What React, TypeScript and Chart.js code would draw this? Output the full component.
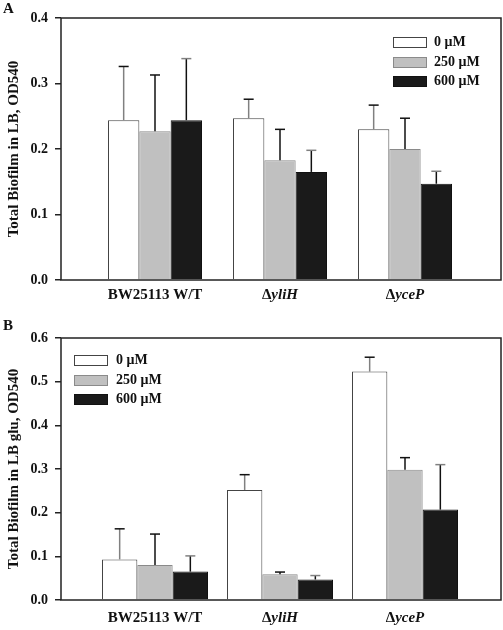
import React, { useEffect, useRef } from "react";
import { Chart, registerables } from "chart.js";

Chart.register(...registerables);

// ---------- data ----------
const categories = ["BW25113 W/T", "\u0394yliH", "\u0394yceP"];
const seriesLabels = ["0 \u03bcM", "250 \u03bcM", "600 \u03bcM"];

// Panel A (LB)
const a0 = [0.244, 0.247, 0.23];
const a250 = [0.227, 0.183, 0.2];
const a600 = [0.244, 0.165, 0.147];
const a0Sd = [0.082, 0.029, 0.037];
const a250Sd = [0.086, 0.047, 0.047];
const a600Sd = [0.094, 0.033, 0.019];

// Panel B (LB glu)
const b0 = [0.093, 0.252, 0.523];
const b250 = [0.08, 0.059, 0.298];
const b600 = [0.065, 0.047, 0.207];
const b0Sd = [0.07, 0.035, 0.033];
const b250Sd = [0.071, 0.005, 0.028];
const b600Sd = [0.036, 0.009, 0.103];

const yTicksA = [0, 0.1, 0.2, 0.3, 0.4];
const yTicksB = [0, 0.1, 0.2, 0.3, 0.4, 0.5, 0.6];

// ---------- styles ----------
const SERIF = "'Liberation Serif', 'Times New Roman', serif";
const fills = ["#ffffff", "#c0c0c0", "#1a1a1a"];
const borders = ["#444444", "#8a8a8a", "#111111"];
const stemColors = ["#808080", "#111111", "#111111"];
const capColors = ["#111111", "#111111", "#808080"];

type PanelCfg = {
  means: number[][];
  sds: number[][];
  yMax: number;
  yTicks: number[];
  yTitle: string;
  height: number;
  padTop: number;
  plotBottom: number;
  catPct: number;
  labelOffset: number;
};

const frameAndLabels = {
  id: "frameAndLabels",
  afterDatasetsDraw(chart: any, _args: any, opts: any) {
    const ctx = chart.ctx;
    const { left, top, right, bottom } = chart.chartArea;
    const yScale = chart.scales.y;
    const xScale = chart.scales.x;
    const sds: number[][] = opts.sds;
    // error bars
    chart.data.datasets.forEach((ds: any, di: number) => {
      const meta = chart.getDatasetMeta(di);
      meta.data.forEach((el: any, i: number) => {
        const v = ds.data[i].y + sds[di][i];
        const yTop = yScale.getPixelForValue(v);
        ctx.save();
        ctx.lineWidth = 1.5;
        ctx.strokeStyle = stemColors[di];
        ctx.beginPath();
        ctx.moveTo(el.x, el.y);
        ctx.lineTo(el.x, yTop);
        ctx.stroke();
        ctx.strokeStyle = capColors[di];
        ctx.beginPath();
        ctx.moveTo(el.x - 5, yTop);
        ctx.lineTo(el.x + 5, yTop);
        ctx.stroke();
        ctx.restore();
      });
    });
    // frame
    ctx.save();
    ctx.lineWidth = 1.5;
    ctx.strokeStyle = "#222222";
    ctx.strokeRect(left, top, right - left, bottom - top);
    ctx.restore();
    // x labels with mixed fonts
    const yText = bottom + opts.labelOffset;
    categories.forEach((cat, i) => {
      const parts: [string, boolean][] = cat.startsWith("\u0394")
        ? [["\u0394", false], [cat.slice(1), true]]
        : [[cat, false]];
      ctx.save();
      ctx.fillStyle = "#111";
      ctx.textBaseline = "middle";
      ctx.textAlign = "left";
      const widths = parts.map(([t, it]) => {
        ctx.font = `${it ? "italic " : ""}bold 15px ${SERIF}`;
        return ctx.measureText(t).width;
      });
      const total = widths.reduce((s, w) => s + w, 0);
      let x = xScale.getPixelForValue(i + 1) - total / 2;
      parts.forEach(([t, it], k) => {
        ctx.font = `${it ? "italic " : ""}bold 15px ${SERIF}`;
        ctx.fillText(t, x, yText);
        x += widths[k];
      });
      ctx.restore();
    });
  },
};

function Panel({ cfg }: { cfg: PanelCfg }) {
  const ref = useRef<HTMLCanvasElement>(null);
  useEffect(() => {
    if (!ref.current) return;
    const chart = new Chart(ref.current, {
      type: "bar",
      data: {
        datasets: seriesLabels.map((lab, di) => ({
          label: lab,
          data: cfg.means[di].map((v, i) => ({ x: i + 1, y: v })),
          backgroundColor: fills[di],
          borderColor: borders[di],
          borderWidth: 1,
          borderSkipped: "bottom",
          categoryPercentage: cfg.catPct,
          barPercentage: 1,
        })),
      },
      options: {
        animation: false,
        responsive: false,
        events: [],
        layout: { padding: { top: cfg.padTop, right: 2, left: 0, bottom: 0 } },
        plugins: {
          legend: { display: false },
          tooltip: { enabled: false },
          frameAndLabels: { sds: cfg.sds, labelOffset: cfg.labelOffset },
        } as any,
        scales: {
          x: {
            type: "linear",
            min: 0.248,
            max: 3.768,
            offset: false,
            bounds: "data",
            grid: { display: false, offset: false },
            border: { display: false },
            ticks: { display: false },
            afterBuildTicks: (s: any) => {
              s.ticks = categories.map((_, i) => ({ value: i + 1 }));
            },
            afterFit: (s: any) => {
              s.height = cfg.height - cfg.plotBottom;
            },
          },
          y: {
            min: 0,
            max: cfg.yMax,
            afterBuildTicks: (s: any) => {
              s.ticks = cfg.yTicks.map((v) => ({ value: v }));
            },
            afterFit: (s: any) => {
              s.width = 61;
            },
            grid: {
              drawOnChartArea: false,
              drawTicks: true,
              tickLength: 6,
              color: "#222222",
              lineWidth: 1.5,
            },
            border: { display: false },
            ticks: {
              padding: 7,
              color: "#111",
              font: { family: SERIF, size: 14, weight: "bold" },
              callback: (v: any) => Number(v).toFixed(1),
            },
            title: {
              display: true,
              text: cfg.yTitle,
              color: "#111",
              font: { family: SERIF, size: 15, weight: "bold" },
              padding: { top: 5, bottom: 0 },
            },
          },
        },
      },
      plugins: [frameAndLabels],
    });
    return () => chart.destroy();
  }, [cfg]);
  return (
    <canvas
      ref={ref}
      width={503}
      height={cfg.height}
      style={{ display: "block", width: 503, height: cfg.height }}
    />
  );
}

const cfgA: PanelCfg = {
  means: [a0, a250, a600],
  sds: [a0Sd, a250Sd, a600Sd],
  yMax: 0.4,
  yTicks: yTicksA,
  yTitle: "Total Biofilm in LB, OD540",
  height: 312,
  padTop: 18,
  plotBottom: 280,
  catPct: 0.752,
  labelOffset: 15,
};

const cfgB: PanelCfg = {
  means: [b0, b250, b600],
  sds: [b0Sd, b250Sd, b600Sd],
  yMax: 0.6,
  yTicks: yTicksB,
  yTitle: "Total Biofilm in LB glu, OD540",
  height: 330,
  padTop: 38,
  plotBottom: 300,
  catPct: 0.848,
  labelOffset: 18,
};

function Legend({ left, top, textLeft }: { left: number; top: number; textLeft: number }) {
  return (
    <>
      {seriesLabels.map((lab, i) => (
        <React.Fragment key={lab}>
          <div
            style={{
              position: "absolute",
              left,
              top: top + i * 19.5 - 5,
              width: 32,
              height: 9,
              background: fills[i],
              border: `1px solid ${borders[i]}`,
            }}
          />
          <div
            style={{
              position: "absolute",
              left: textLeft,
              top: top + i * 19.5 - 9,
              height: 18,
              lineHeight: "18px",
              fontFamily: SERIF,
              fontWeight: "bold",
              fontSize: 14,
              color: "#111",
              whiteSpace: "nowrap",
            }}
          >
            {lab}
          </div>
        </React.Fragment>
      ))}
    </>
  );
}

export default function App() {
  return (
    <div
      style={{
        position: "absolute",
        left: 0,
        top: 0,
        width: 503,
        height: 630,
        background: "#fff",
        overflow: "hidden",
      }}
    >
      <div style={{ position: "absolute", left: 0, top: 0 }}>
        <Panel cfg={cfgA} />
      </div>
      <div style={{ position: "absolute", left: 0, top: 300 }}>
        <Panel cfg={cfgB} />
      </div>
      <div
        style={{
          position: "absolute",
          left: 3,
          top: 0,
          fontFamily: SERIF,
          fontWeight: "bold",
          fontSize: 15,
          lineHeight: "17px",
          color: "#111",
        }}
      >
        A
      </div>
      <div
        style={{
          position: "absolute",
          left: 3,
          top: 317,
          fontFamily: SERIF,
          fontWeight: "bold",
          fontSize: 15,
          lineHeight: "17px",
          color: "#111",
        }}
      >
        B
      </div>
      <Legend left={393} top={42} textLeft={434} />
      <Legend left={74} top={360} textLeft={116} />
    </div>
  );
}
